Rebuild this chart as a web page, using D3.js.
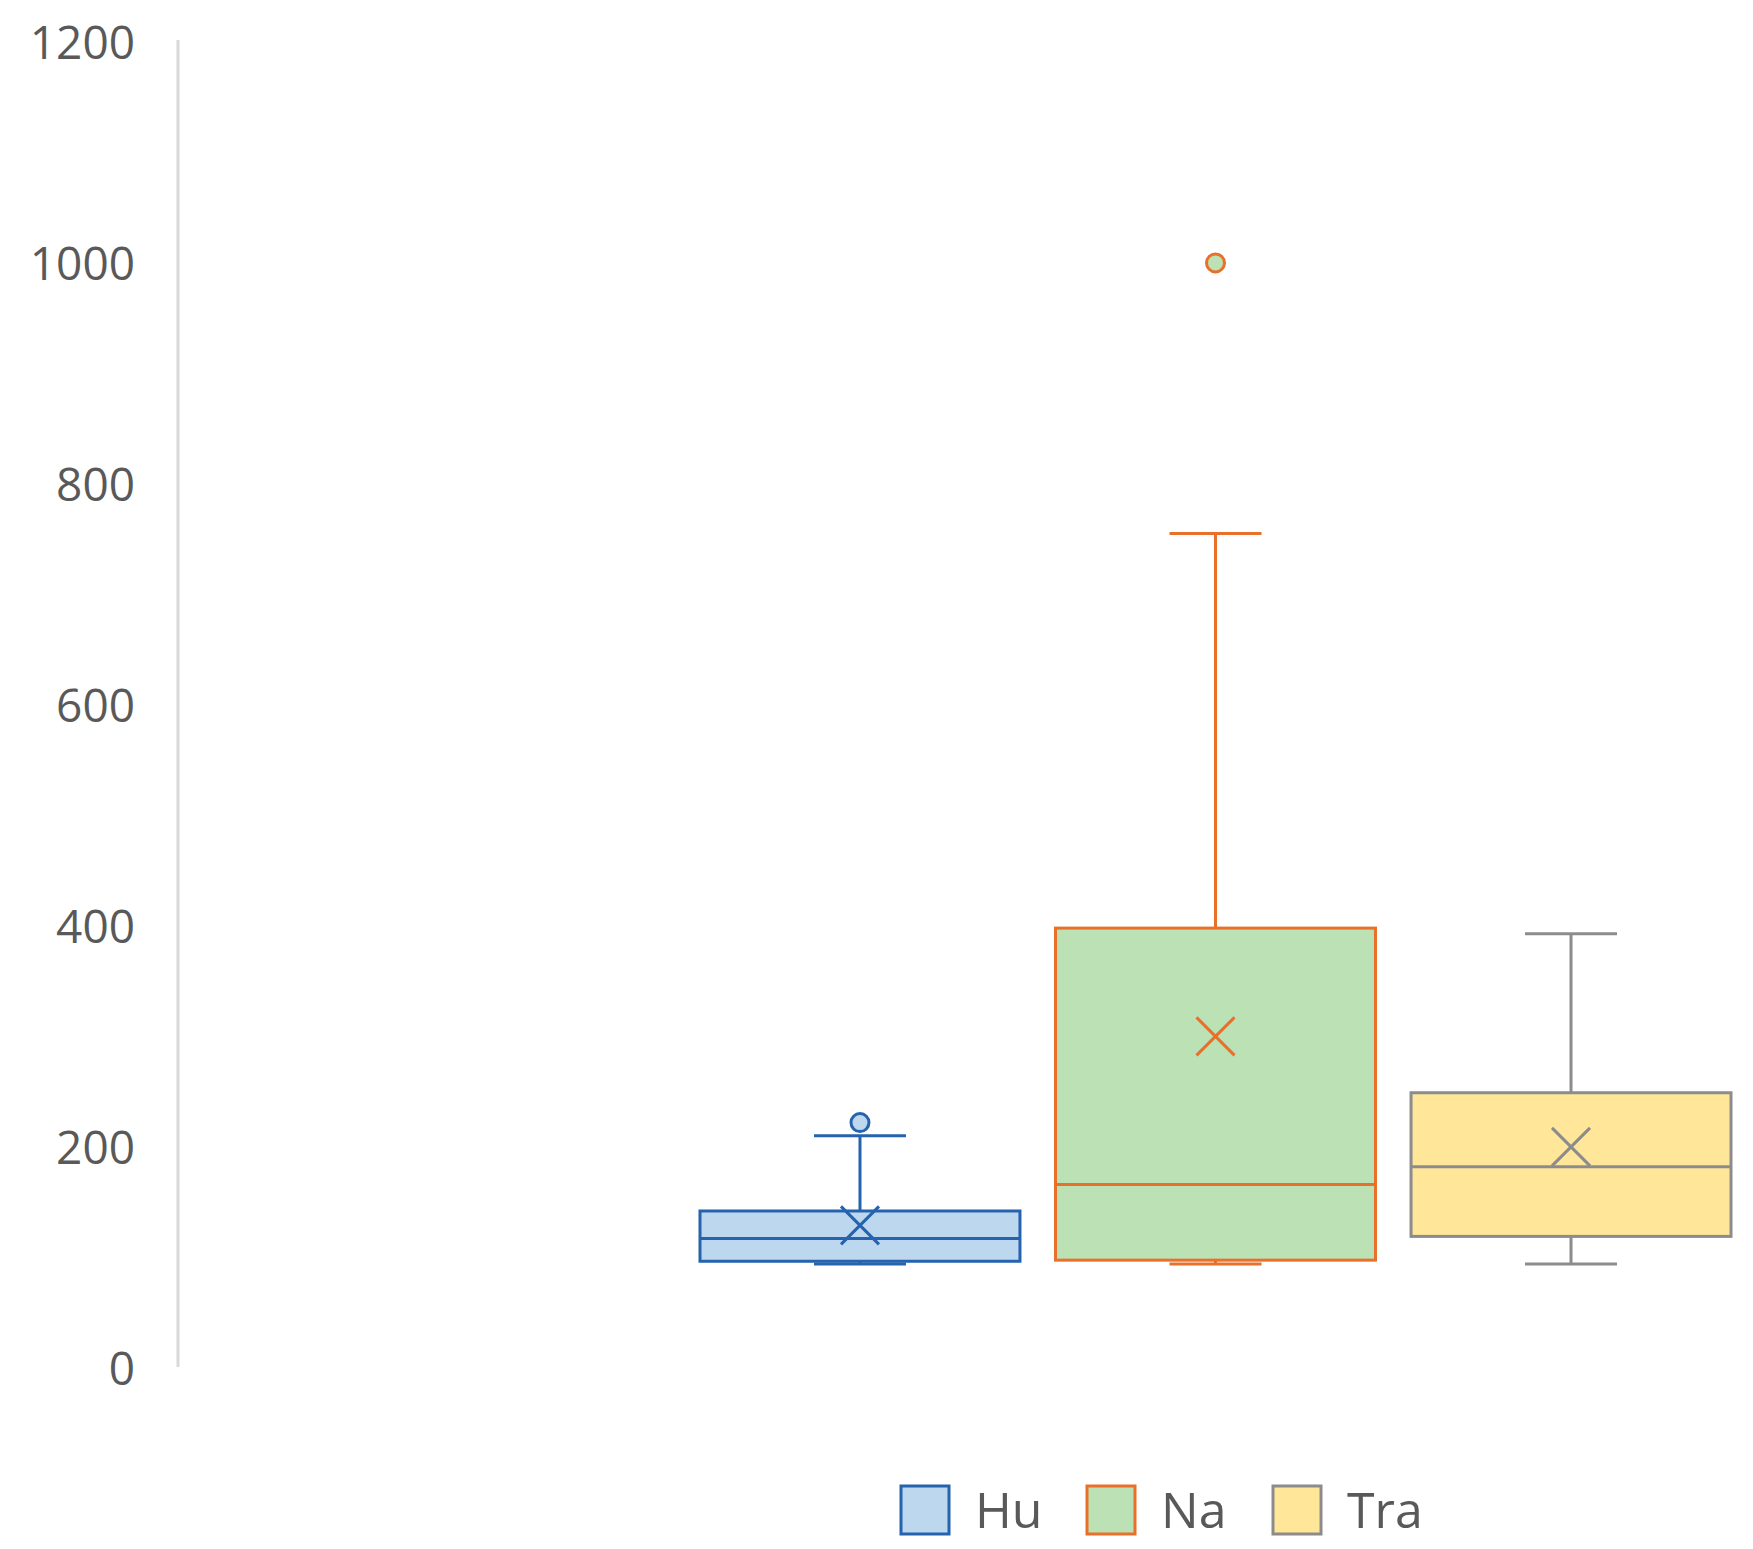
<!DOCTYPE html>
<html><head><meta charset="utf-8">
<script src="https://cdn.jsdelivr.net/npm/d3@7"></script>
<style>body{margin:0;background:#fff}</style></head>
<body><svg id="c" width="1753" height="1549"></svg>
<script>
const series = ["Hu","Na","Tra"];
const mins = [95,95,95];
const q1s = [97.5,98.5,120];
const medians = [118,167,183];
const q3s = [143,399,250];
const maxs = [211,756,394];
const means = [130,301,201];
const outliers = [[223],[1001],[]];
const yTicks = [0,200,400,600,800,1000,1200];
const fills = ["#BDD7EE","#BCE1B4","#FFE699"];
const strokes = ["#2563AE","#E8702A","#8C8C8C"];

const svg = d3.select("#c");
const y = d3.scaleLinear().domain([0,1200]).range([1369,43]);
const x = d3.scaleBand().domain(series).range([700,1731]).paddingInner(0.1).paddingOuter(0);

svg.append("line").attr("x1",178).attr("x2",178).attr("y1",40).attr("y2",1367)
  .attr("stroke","#d9d9d9").attr("stroke-width",3);
svg.selectAll(".yt").data(yTicks).join("text").attr("x",135).attr("y",d=>y(d))
  .attr("dy","0.35em").attr("text-anchor","end").attr("font-family","Open Sans")
  .attr("font-size",46).attr("fill","#595959").text(d=>d);

series.forEach((s,i)=>{
  const g = svg.append("g");
  const x0 = x(s), w = x.bandwidth(), cx = x0+w/2, cap=46;
  const st = strokes[i];
  g.append("line").attr("x1",cx).attr("x2",cx).attr("y1",y(q3s[i])).attr("y2",y(maxs[i])).attr("stroke",st).attr("stroke-width",3);
  g.append("line").attr("x1",cx).attr("x2",cx).attr("y1",y(q1s[i])).attr("y2",y(mins[i])).attr("stroke",st).attr("stroke-width",3);
  g.append("line").attr("x1",cx-cap).attr("x2",cx+cap).attr("y1",y(maxs[i])).attr("y2",y(maxs[i])).attr("stroke",st).attr("stroke-width",3);
  g.append("line").attr("x1",cx-cap).attr("x2",cx+cap).attr("y1",y(mins[i])).attr("y2",y(mins[i])).attr("stroke",st).attr("stroke-width",3);
  g.append("rect").attr("x",x0).attr("width",w).attr("y",y(q3s[i])).attr("height",y(q1s[i])-y(q3s[i]))
    .attr("fill",fills[i]).attr("stroke",st).attr("stroke-width",3);
  g.append("line").attr("x1",x0).attr("x2",x0+w).attr("y1",y(medians[i])).attr("y2",y(medians[i])).attr("stroke",st).attr("stroke-width",3);
  const my=y(means[i]), r=19;
  g.append("path").attr("d",`M${cx-r},${my-r}L${cx+r},${my+r}M${cx-r},${my+r}L${cx+r},${my-r}`).attr("stroke",st).attr("stroke-width",3).attr("fill","none");
  g.selectAll("circle").data(outliers[i]).join("circle").attr("cx",cx).attr("cy",d=>y(d)).attr("r",9)
    .attr("fill",fills[i]).attr("stroke",st).attr("stroke-width",3);
});

const lx=[901,1087,1273];
series.forEach((s,i)=>{
  svg.append("rect").attr("x",lx[i]).attr("y",1486).attr("width",48).attr("height",48)
    .attr("fill",fills[i]).attr("stroke",strokes[i]).attr("stroke-width",3);
  svg.append("text").attr("x",lx[i]+74).attr("y",1510).attr("dy","0.35em")
    .attr("font-family","Open Sans").attr("font-size",50).attr("fill","#595959").text(s);
});
</script></body></html>
